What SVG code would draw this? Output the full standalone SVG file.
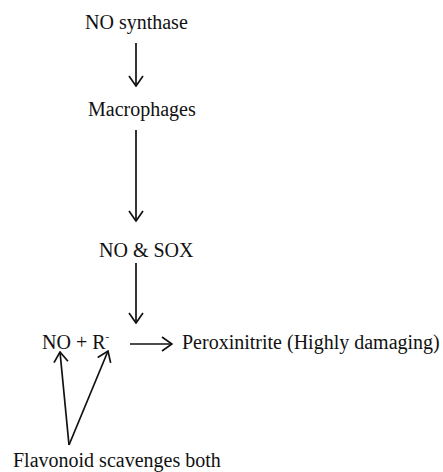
<svg xmlns="http://www.w3.org/2000/svg" width="443" height="472" viewBox="0 0 443 472">
<style>
text{font-family:"Liberation Serif","Times New Roman",serif;font-size:20px;fill:#111}
.c line{stroke:#111;stroke-width:1.7;fill:none;marker-end:url(#ah)}
</style>
<defs>
<marker id="ah" viewBox="0 0 12 16" refX="11" refY="8" markerWidth="12" markerHeight="16" markerUnits="userSpaceOnUse" orient="auto">
<path d="M1,1 L11,8 L1,15" fill="none" stroke="#111" stroke-width="1.7"/>
</marker>
</defs>
<rect width="443" height="472" fill="#fff"/>
<g id="no-synthase"><text x="85" y="29">NO synthase</text></g>
<g id="macrophages"><text x="88" y="116">Macrophages</text></g>
<g id="no-sox"><text x="99" y="257">NO &amp; SOX</text></g>
<g id="no-r"><text x="42" y="349">NO + R<tspan font-size="11" dy="-9">-</tspan></text></g>
<g id="peroxinitrite"><text x="182" y="349">Peroxinitrite (Highly damaging)</text></g>
<g id="flavonoid"><text x="13" y="467">Flavonoid scavenges both</text></g>
<g class="c" id="connectors">
<line x1="136" y1="43" x2="136" y2="86"/>
<line x1="136" y1="130" x2="136" y2="221"/>
<line x1="136" y1="263" x2="136" y2="323"/>
<line x1="130" y1="344" x2="172" y2="344"/>
<line x1="69" y1="445" x2="60" y2="352"/>
<line x1="69" y1="445" x2="108" y2="351"/>
</g>
</svg>
